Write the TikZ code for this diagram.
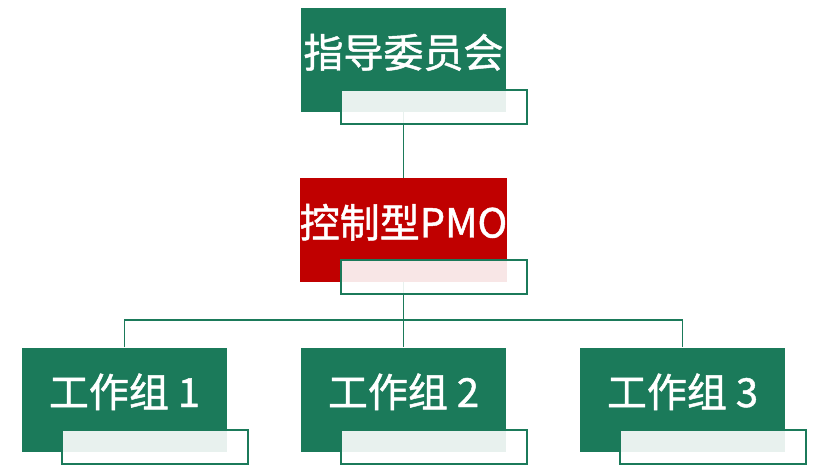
\documentclass[tikz,border=0pt]{standalone}
\usepackage{fontspec}
\usepackage{tikz}
\usetikzlibrary{calc}
\newfontfamily\cjk[FakeBold=1.2]{Noto Sans CJK SC}
\definecolor{pine}{HTML}{1B7A5A}
\definecolor{crimson}{HTML}{C00000}
\tikzset{
  box/.style={fill=#1, draw=none, minimum width=205pt, minimum height=104pt, inner sep=0pt,
    text=white, font=\cjk\fontsize{40}{40}\selectfont, text height=30pt, text depth=15pt},
  box/.default=pine,
  tab/.style={fill=white, fill opacity=0.9, draw=pine, draw opacity=1, line width=2pt,
    minimum width=186pt, minimum height=34pt, inner sep=0pt},
  link/.style={draw=pine, line width=1.9pt},
}

\begin{document}
\begin{tikzpicture}[x=1pt,y=1pt]
        \useasboundingbox (0,0) rectangle (826,466);
        \node[box] (steer) at (403.5,406) {指导委员会};
        \node[box=crimson] (pmo) at (403.5,236) {控制型PMO};
        \foreach \i/\x in {1/124.5,2/403.5,3/682.5} \node[box] (wg\i) at (\x,66.5) {工作组 \i};
        % connectors sit under the tabs
        \coordinate (bus) at ($(pmo.south)!0.585!(wg2.north)$);
        \draw[link] (steer.south) -- (pmo.north);
        \draw[link] (pmo.south) -- (wg2.north);
        \draw[link] (wg1.north) |- (bus) -| (wg3.north);
        \foreach \n in {steer,pmo,wg1,wg2,wg3} \node[tab] (\n-tab) at ($(\n)+(30.5,-47)$) {};
      \end{tikzpicture}
\end{document}
